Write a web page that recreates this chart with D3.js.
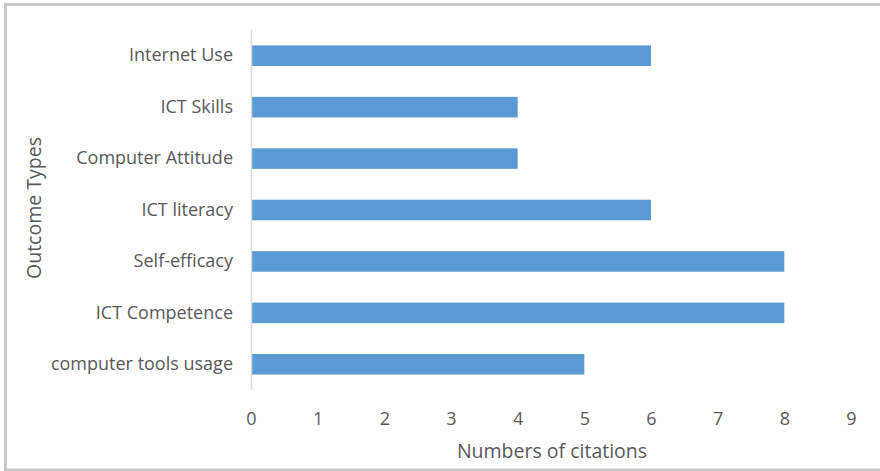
<!DOCTYPE html>
<html>
<head>
<meta charset="utf-8">
<script src="https://cdn.jsdelivr.net/npm/d3@7"></script>
<style>
  html, body { margin: 0; padding: 0; background: #fff; }
  svg { display: block; }
  text { font-family: "Open Sans", Lato, sans-serif; fill: #595959; }
</style>
</head>
<body>
<svg id="chart" width="880" height="471"></svg>
<script>
const categories = ["Internet Use ", "ICT Skills", "Computer Attitude", "ICT literacy", "Self-efficacy", "ICT Competence", "computer tools usage"];
const values = [6, 4, 4, 6, 8, 8, 5];
const xTicks = [0, 1, 2, 3, 4, 5, 6, 7, 8, 9];
const xTitle = "Numbers of citations";
const yTitle = "Outcome Types";

const svg = d3.select("#chart");
const W = 880, H = 471;

// frame
svg.append("rect").attr("x", 0).attr("y", 0).attr("width", W).attr("height", H).attr("fill", "#fff");
svg.append("rect").attr("x", 5.5).attr("y", 4.5).attr("width", W + 4).attr("height", H - 5.5)
  .attr("fill", "none").attr("stroke", "#c8c8c8").attr("stroke-width", 3);

const pLeft = 251, pRight = 851, pTop = 30, pBottom = 390;

const x = d3.scaleLinear().domain([0, 9]).range([pLeft, pRight]);
const y = d3.scaleBand().domain(categories).range([pTop, pBottom]).paddingInner(0.6).paddingOuter(0.3);

svg.append("g").selectAll("rect").data(categories).join("rect")
  .attr("x", x(0))
  .attr("y", d => y(d))
  .attr("width", (d, i) => x(values[i]) - x(0))
  .attr("height", y.bandwidth())
  .attr("fill", "#5b9bd5");

// y axis line
svg.append("line").attr("x1", x(0) + 0.5).attr("x2", x(0) + 0.5).attr("y1", pTop).attr("y2", pBottom)
  .attr("stroke", "#d9d9d9").attr("stroke-width", 1.5);

// category labels
const yAxis = d3.axisLeft(y).tickSize(0).tickPadding(18);
const gy = svg.append("g").attr("transform", `translate(${x(0)},0)`).call(yAxis);
gy.select(".domain").remove();
gy.selectAll("text").style("font-size", "18px").attr("fill", "#595959");

// x tick labels
const xAxis = d3.axisBottom(x).tickValues(xTicks).tickSize(0).tickPadding(0).tickFormat(d3.format("d"));
const gx = svg.append("g").attr("transform", `translate(0,${412})`).call(xAxis);
gx.select(".domain").remove();
gx.selectAll("text").style("font-size", "18px").attr("fill", "#595959");

// titles
svg.append("text").attr("x", (pLeft + pRight) / 2 + 1).attr("y", 458)
  .attr("text-anchor", "middle").style("font-size", "19.5px").text(xTitle);
svg.append("text").attr("transform", `translate(41,${208}) rotate(-90)`)
  .attr("text-anchor", "middle").style("font-size", "19.5px").text(yTitle);
</script>
</body>
</html>
